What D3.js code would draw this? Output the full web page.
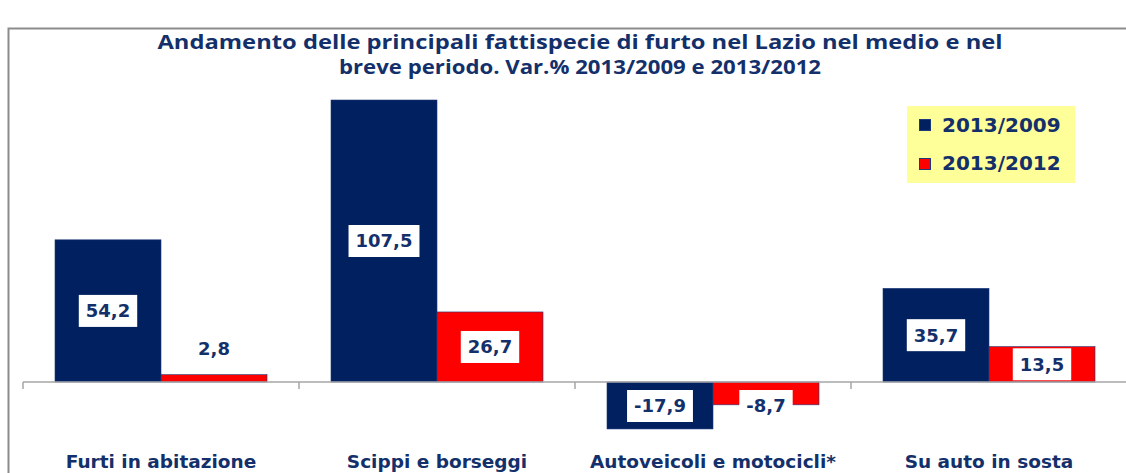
<!DOCTYPE html>
<html>
<head>
<meta charset="utf-8">
<script src="https://cdn.jsdelivr.net/npm/d3@7"></script>
<style>
  body { margin: 0; background: #fff; }
  svg { display: block; }
</style>
</head>
<body>
<svg width="1126" height="473"></svg>
<script>
// data
const categories = ["Furti in abitazione", "Scippi e borseggi", "Autoveicoli e motocicli*", "Su auto in sosta"];
const seriesNames = ["2013/2009", "2013/2012"];
const var2009 = [54.2, 107.5, -17.9, 35.7];
const var2012 = [2.8, 26.7, -8.7, 13.5];
const titleLines = ["Andamento delle principali fattispecie di furto nel Lazio nel medio e nel",
                    "breve periodo. Var.% 2013/2009 e 2013/2012"];

const colors = ["#002060", "#ff0000"];
const textColor = "#14306b";

const svg = d3.select("svg");

// outer frame
svg.append("rect")
  .attr("x", 8.5).attr("y", 28.5)
  .attr("width", 1140).attr("height", 460)
  .attr("fill", "none")
  .attr("stroke", "#8c8c8c")
  .attr("stroke-width", 2);

// title
svg.selectAll(".title")
  .data(titleLines).enter()
  .append("text")
  .attr("x", 580)
  .attr("y", (d, i) => 49 + i * 25)
  .attr("text-anchor", "middle")
  .attr("font-family", "'Open Sans', sans-serif")
  .attr("font-weight", "bold")
  .attr("font-size", "20px")
  .attr("fill", textColor)
  .attr("textLength", (d, i) => i == 0 ? 845 : 482)
  .attr("lengthAdjust", "spacingAndGlyphs")
  .text(d => d);

// scales
const x0 = d3.scaleBand()
  .domain(categories)
  .range([23, 1127])
  .paddingInner(0)
  .paddingOuter(0);

const x1 = d3.scaleBand()
  .domain(seriesNames)
  .range([32, x0.bandwidth() - 32]);

const y = d3.scaleLinear()
  .domain([0, 107.5])
  .range([382, 100]);

const rows = categories.map((c, i) => ({cat: c, vals: [var2009[i], var2012[i]]}));

const groups = svg.selectAll(".grp")
  .data(rows).enter()
  .append("g")
  .attr("transform", d => `translate(${x0(d.cat)},0)`);

groups.selectAll("rect")
  .data(d => d.vals.map((v, j) => ({v: v, s: seriesNames[j], j: j})))
  .enter().append("rect")
  .attr("x", d => x1(d.s))
  .attr("width", x1.bandwidth())
  .attr("y", d => Math.min(y(d.v), y(0)))
  .attr("height", d => Math.abs(y(d.v) - y(0)))
  .attr("fill", d => colors[d.j])
  .attr("stroke", "#1f3a7a")
  .attr("stroke-width", 0.6);

// axis line with ticks
const axis = svg.append("g").attr("transform", `translate(0,${y(0)})`);
axis.append("line")
  .attr("x1", 23).attr("x2", 1127)
  .attr("stroke", "#a6a6a6").attr("stroke-width", 1.5);
axis.selectAll(".tk")
  .data(categories).enter()
  .append("line")
  .attr("x1", d => x0(d)).attr("x2", d => x0(d))
  .attr("y1", 0).attr("y2", 7)
  .attr("stroke", "#a6a6a6").attr("stroke-width", 1.5);

// data labels
const labels = groups.selectAll(".lbl")
  .data(d => d.vals.map((v, j) => ({v: v, s: seriesNames[j], j: j})))
  .enter().append("g")
  .attr("transform", d => {
    const h = Math.abs(y(d.v) - y(0));
    const cx = x1(d.s) + x1.bandwidth() / 2;
    let cy = (y(d.v) + y(0)) / 2;
    if (d.v > 0 && h < 20) cy = y(d.v) - 26;   // small bar: label above
    if (d.v < 0) cy = Math.max(cy, y(0) + 24);
    return `translate(${cx},${cy})`;
  });

labels.append("text")
  .attr("text-anchor", "middle")
  .attr("dy", "0.36em")
  .attr("font-family", "'DejaVu Sans', Verdana, sans-serif")
  .attr("font-weight", "bold")
  .attr("font-size", "18px")
  .attr("fill", textColor)
  .text(d => d3.format(".1f")(d.v).replace(".", ",").replace("\u2212", "-"))
  .each(function() {
    const b = this.getBBox();
    d3.select(this.parentNode).insert("rect", "text")
      .attr("x", b.x - 7).attr("y", -16)
      .attr("width", b.width + 14).attr("height", 32)
      .attr("fill", "#fff");
  });

// category labels
svg.selectAll(".cat")
  .data(categories).enter()
  .append("text")
  .attr("x", d => x0(d) + x0.bandwidth() / 2)
  .attr("y", 468)
  .attr("text-anchor", "middle")
  .attr("font-family", "'DejaVu Sans', Verdana, sans-serif")
  .attr("font-weight", "bold")
  .attr("font-size", "18.5px")
  .attr("fill", textColor)
  .text(d => d);

// legend
const legend = svg.append("g").attr("transform", "translate(907,106)");
legend.append("rect")
  .attr("width", 168).attr("height", 77)
  .attr("fill", "#ffff99");
seriesNames.forEach((s, i) => {
  legend.append("rect")
    .attr("x", 12.5).attr("y", 13.5 + i * 39)
    .attr("width", 11).attr("height", 11)
    .attr("fill", colors[i])
    .attr("stroke", "#1f3a7a").attr("stroke-width", 1);
  legend.append("text")
    .attr("x", 35).attr("y", 26 + i * 38)
    .attr("font-family", "'DejaVu Sans', Verdana, sans-serif")
    .attr("font-weight", "bold")
    .attr("font-size", "20px")
    .attr("fill", textColor)
    .text(s);
});
</script>
</body>
</html>
